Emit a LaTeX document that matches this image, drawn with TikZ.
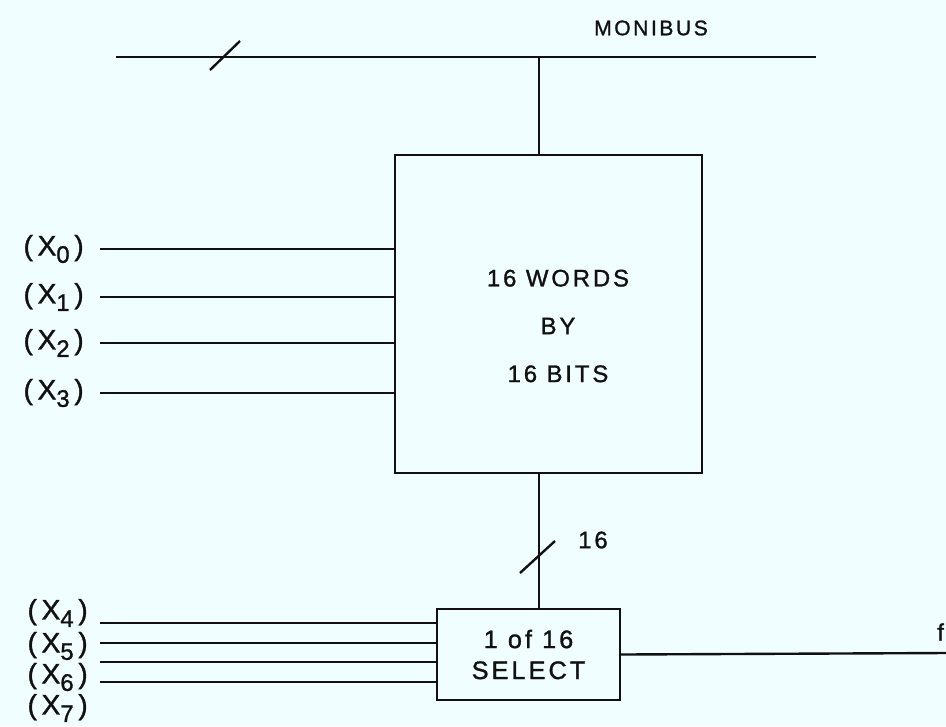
\documentclass[tikz,border=0pt]{standalone}
\usepackage{fontspec}
\setmainfont{Liberation Sans}
\newfontfamily\lettering[LetterSpace=12,FakeBold=1.2]{Liberation Sans}
\usetikzlibrary{positioning,calc}
\definecolor{cPaper}{HTML}{F0FEFF}
\definecolor{cInk}{HTML}{111111}
\newcommand{\xsig}[1]{(\,X\raisebox{-0.5ex}{\fontsize{17}{17}\selectfont #1}\,)}

\begin{document}
\begin{tikzpicture}[x=0.025cm,y=-0.025cm,
  wire/.style={line width=1.7pt,cInk},
  blk/.style={draw=cInk,line width=1.7pt,inner sep=0pt},
  txt/.style={font=\lettering\fontsize{17}{34}\selectfont,align=center,text=cInk},
  sig/.style={font=\lettering\fontsize{20}{22}\selectfont,text=cInk,inner sep=0pt}]
\fill[cPaper] (0,0) rectangle (946,726);
\useasboundingbox (0,0) rectangle (946,726);
% monibus
\coordinate (busL) at (116,57);
\coordinate (busR) at (816,57);
\coordinate (tap) at (539,57);
\coordinate (busmark) at (225,57);
\node[txt,font=\lettering\fontsize{15}{18}\selectfont] (busname) at (651,28) {MONIBUS};
\draw[wire] (busL) -- (busR);
\draw[wire] ([shift={(-15,13)}]busmark) -- ([shift={(15,-16)}]busmark);
% memory block
\node[blk,minimum width=7.675cm,minimum height=7.95cm] (mem) at (548.5,314) {};
\node[txt] (memtext) at (558,326) {16 WORDS\\BY\\16 BITS};
\draw[wire] (tap) -- (tap |- mem.north);
\foreach \i/\y in {0/249,1/297,2/343,3/393}{
  \node[sig,anchor=east] (x\i) at (84,\y) {\xsig{\i}};
  \draw[wire] (x\i.east) ++(16,0) -- (x\i.east -| mem.west);
}
% select
\node[blk,txt,font=\lettering\fontsize{18}{22}\selectfont,
      minimum width=4.575cm,minimum height=2.275cm] (sel) at (528.5,654.5) {1 of 16\\SELECT};
\coordinate (selmark) at (538,557);
\draw[wire] (mem.south -| tap) -- (sel.north -| tap);
\draw[wire] ([shift={(-18,16)}]selmark) -- ([shift={(17,-16)}]selmark);
\node[txt] (width) at (593,540) {16};
\foreach \i/\y in {4/623,5/643,6/662,7/682}{
  \coordinate (in\i) at (100,\y);
  \draw[wire] (in\i) -- (in\i -| sel.west);
}
\foreach \i/\y in {4/613,5/646,6/677,7/708}
  \node[sig,anchor=east] (x\i) at (88,\y) {\xsig{\i}};
\coordinate (out) at (946,653);
\draw[wire] (sel.east) -- (out);
\node[txt,anchor=west,inner sep=0pt] (fn) at (937,632) {f};
\end{tikzpicture}
\end{document}
